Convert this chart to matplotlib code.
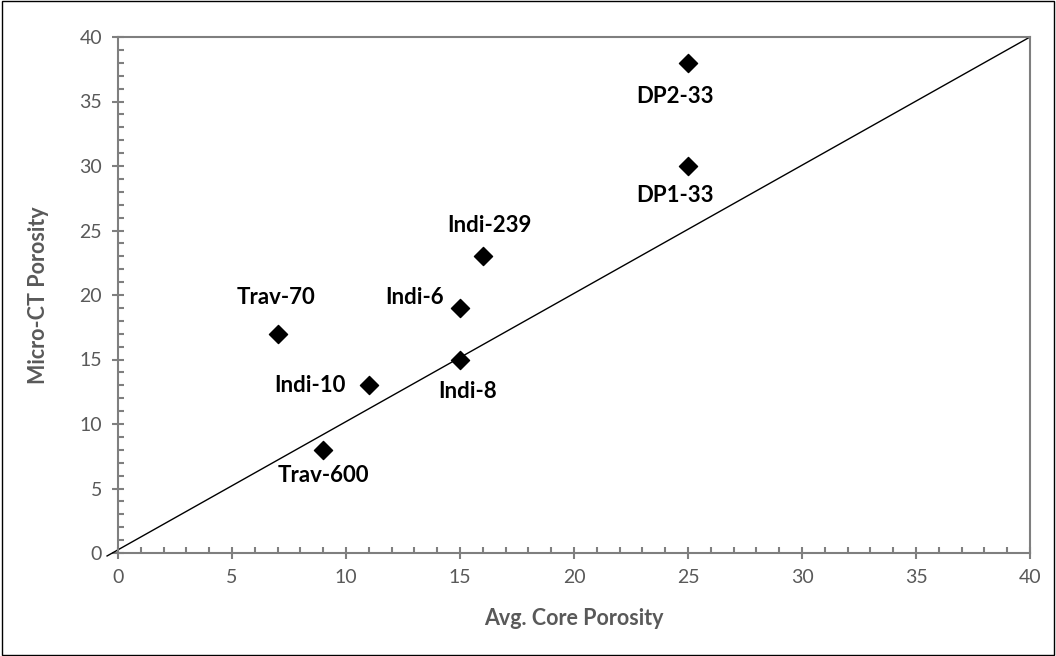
import matplotlib
matplotlib.use("Agg")
import matplotlib.pyplot as plt
from matplotlib.ticker import MultipleLocator
from matplotlib.patches import Rectangle

# Sample porosity measurements
samples = ["Trav-70", "Indi-10", "Trav-600", "Indi-6", "Indi-8", "Indi-239", "DP2-33", "DP1-33"]
core_porosity = [7, 11, 9, 15, 15, 16, 25, 25]
microct_porosity = [17, 13, 8, 19, 15, 23, 38, 30]

# label offsets (pixels) relative to each marker
label_offsets = {
    "Trav-70": (-2, 36),
    "Indi-10": (-59, 0),
    "Trav-600": (0, -26),
    "Indi-6": (-45, 10),
    "Indi-8": (8, -32),
    "Indi-239": (7, 31),
    "DP2-33": (-13, -34),
    "DP1-33": (-13, -30),
}

plt.rcParams["font.family"] = ["Lato", "DejaVu Sans"]
grey = "#7f7f7f"
text_grey = "#595959"

W, H = 1056, 656
fig = plt.figure(figsize=(W / 100, H / 100), dpi=100)
ax = fig.add_axes([118 / W, 1 - 553 / H, (1030 - 118) / W, (553 - 37) / H])

# 1:1 reference line
ax.plot([-0.48, 40], [-0.23, 40], color="black", lw=1.0, clip_on=False, zorder=2)

ax.scatter(core_porosity, microct_porosity, marker="D", s=85, color="black", zorder=3, clip_on=False)

for name, x, y in zip(samples, core_porosity, microct_porosity):
    dx, dy = label_offsets[name]
    ax.annotate(name, (x, y), xytext=(dx, dy), textcoords="offset pixels",
                ha="center", va="center", fontsize=16, fontweight="bold", color="black")

ax.set_xlim(0, 40)
ax.set_ylim(0, 40)
ax.xaxis.set_major_locator(MultipleLocator(5))
ax.yaxis.set_major_locator(MultipleLocator(5))
ax.xaxis.set_minor_locator(MultipleLocator(1))
ax.yaxis.set_minor_locator(MultipleLocator(1))

for side in ["left", "right", "top", "bottom"]:
    ax.spines[side].set_color(grey)
    ax.spines[side].set_linewidth(1.5)

ax.tick_params(which="major", direction="inout", length=9, width=1.5, color=grey,
               labelsize=14, labelcolor=text_grey, pad=7)
ax.tick_params(which="minor", direction="in", length=4, width=1.5, color=grey)
ax.tick_params(axis="y", which="both", right=False)
ax.tick_params(axis="x", which="both", top=False)

ax.set_xlabel("Avg. Core Porosity", fontsize=15.5, fontweight="bold", color=text_grey, labelpad=16)
ax.set_ylabel("Micro-CT Porosity", fontsize=15.5, fontweight="bold", color=text_grey, labelpad=22)

fig.patches.append(Rectangle((0.002, 0.002), 0.996, 0.996, transform=fig.transFigure,
                             fill=False, edgecolor="black", lw=1.0))

fig.savefig("out.png", dpi=100)
